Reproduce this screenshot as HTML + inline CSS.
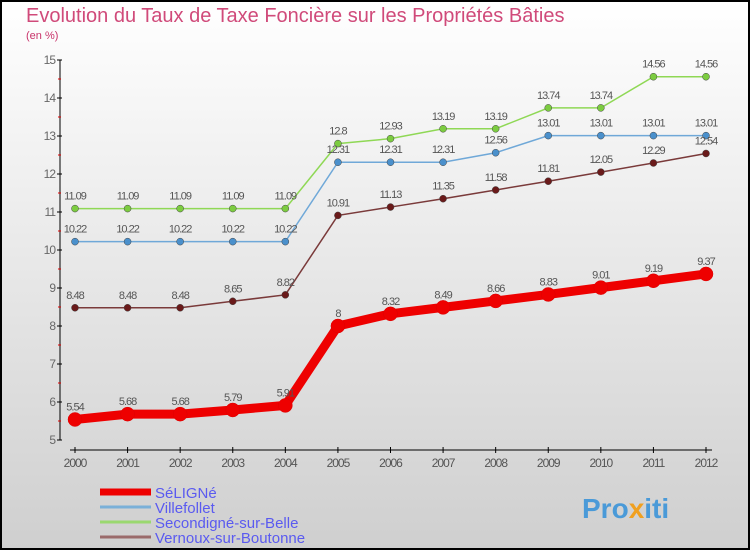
<!DOCTYPE html>
<html><head><meta charset="utf-8"><style>
body{margin:0;width:750px;height:550px;overflow:hidden}
#c{position:absolute;left:0;top:0}
</style></head><body>
<svg id="c" width="750" height="550" xmlns="http://www.w3.org/2000/svg" font-family="'Liberation Sans',sans-serif">
<defs><linearGradient id="bg" x1="0" y1="0" x2="0" y2="1"><stop offset="0" stop-color="#ffffff"/><stop offset="1" stop-color="#cfcfcf"/></linearGradient></defs>
<rect x="1" y="1" width="748" height="548" fill="url(#bg)" stroke="#000" stroke-width="2"/>
<text x="26" y="22" font-size="20" fill="#d04a7a">Evolution du Taux de Taxe Foncière sur les Propriétés Bâties</text>
<text x="26" y="39" font-size="11" fill="#c8336a">(en %)</text>
<g id="axes"></g><g id="series"></g><g id="legend"></g>
<text x="582" y="518" font-size="28" font-weight="bold" fill="#4a9ad8">Pro<tspan fill="#f0a020">x</tspan>iti</text>
</svg>
<script>
const years=[2000,2001,2002,2003,2004,2005,2006,2007,2008,2009,2010,2011,2012];
const yTicks=[5,6,7,8,9,10,11,12,13,14,15];
const seligne=[5.54,5.68,5.68,5.79,5.91,8,8.32,8.49,8.66,8.83,9.01,9.19,9.37];
const villefollet=[10.22,10.22,10.22,10.22,10.22,12.31,12.31,12.31,12.56,13.01,13.01,13.01,13.01];
const secondigne=[11.09,11.09,11.09,11.09,11.09,12.8,12.93,13.19,13.19,13.74,13.74,14.56,14.56];
const vernoux=[8.48,8.48,8.48,8.65,8.82,10.91,11.13,11.35,11.58,11.81,12.05,12.29,12.54];
const names=["SéLIGNé","Villefollet","Secondigné-sur-Belle","Vernoux-sur-Boutonne"];
const NS="http://www.w3.org/2000/svg";
const xs=i=>75+i*(706-75)/12;
const ys=v=>440-(v-5)*38;
function mk(t,a,p){const e=document.createElementNS(NS,t);for(const k in a)e.setAttribute(k,a[k]);p.appendChild(e);return e;}
const ax=document.getElementById('axes');
const yl=mk('line',{x1:60,y1:ys(15),x2:60,y2:ys(5),stroke:'#000'},ax);


yTicks.forEach(v=>{
 mk('line',{x1:57,x2:62,y1:ys(v),y2:ys(v),stroke:'#000'},ax);
 if(v<15)mk('line',{x1:58,x2:61,y1:ys(v+0.5),y2:ys(v+0.5),stroke:'#d00'},ax);
 const t=mk('text',{x:55,y:ys(v)+4,'font-size':12,fill:'#666','text-anchor':'end','letter-spacing':'-1'},ax);t.textContent=v;
 
 
});
const xl=mk('line',{x1:70,y1:450,x2:712,y2:450,stroke:'#000'},ax);


years.forEach((y,i)=>{
 mk('line',{x1:xs(i),x2:xs(i),y1:447,y2:453,stroke:'#000'},ax);
 const t=mk('text',{x:xs(i),y:467,'font-size':12,fill:'#555','text-anchor':'middle','letter-spacing':'-1'},ax);t.textContent=y;
 
 
});
const sg=document.getElementById('series');
const defs=[
 {d:secondigne,c:'#8fd855',f:'#7ccc40',w:1.5,r:3.5,n:'secondigne'},
 {d:villefollet,c:'#6fa8d8',f:'#4a90cc',w:1.5,r:3.5,n:'villefollet'},
 {d:vernoux,c:'#7a3a3a',f:'#6a1a1a',w:1.5,r:3.5,n:'vernoux'},
 {d:seligne,c:'#ee0000',f:'#ee0000',w:9,r:7,n:'seligne'}];
defs.forEach(s=>{
 const g=mk('g',{},sg);
 
 
 const pl=mk('polyline',{points:s.d.map((v,i)=>xs(i)+','+ys(v)).join(' '),fill:'none',stroke:s.c,'stroke-width':s.w},g);
 
 
 s.d.forEach((v,i)=>{
  const p=mk('circle',{cx:xs(i),cy:ys(v),r:s.r,fill:s.f,stroke:s.n==='seligne'?'#d00':'#444','stroke-width':0.5},g);
  
  
  const t=mk('text',{x:xs(i),y:ys(v)-9,'font-size':11,fill:'#555','text-anchor':'middle','letter-spacing':'-1'},g);t.textContent=v;
  
  
 });
});
const lg=document.getElementById('legend');
const lc=['#ee0000','#7ab0d8','#9ad870','#9a6a6a'],lw=[7,3,3,3];
names.forEach((n,i)=>{
 const y=492+i*15;
 const ln=mk('line',{x1:100,x2:151,y1:y,y2:y,stroke:lc[i],'stroke-width':lw[i]},lg);
 
 
 const t=mk('text',{x:155,y:y+6,'font-size':15,fill:'#5a5af0'},lg);t.textContent=n;
 
 
});
</script>
</body></html>
